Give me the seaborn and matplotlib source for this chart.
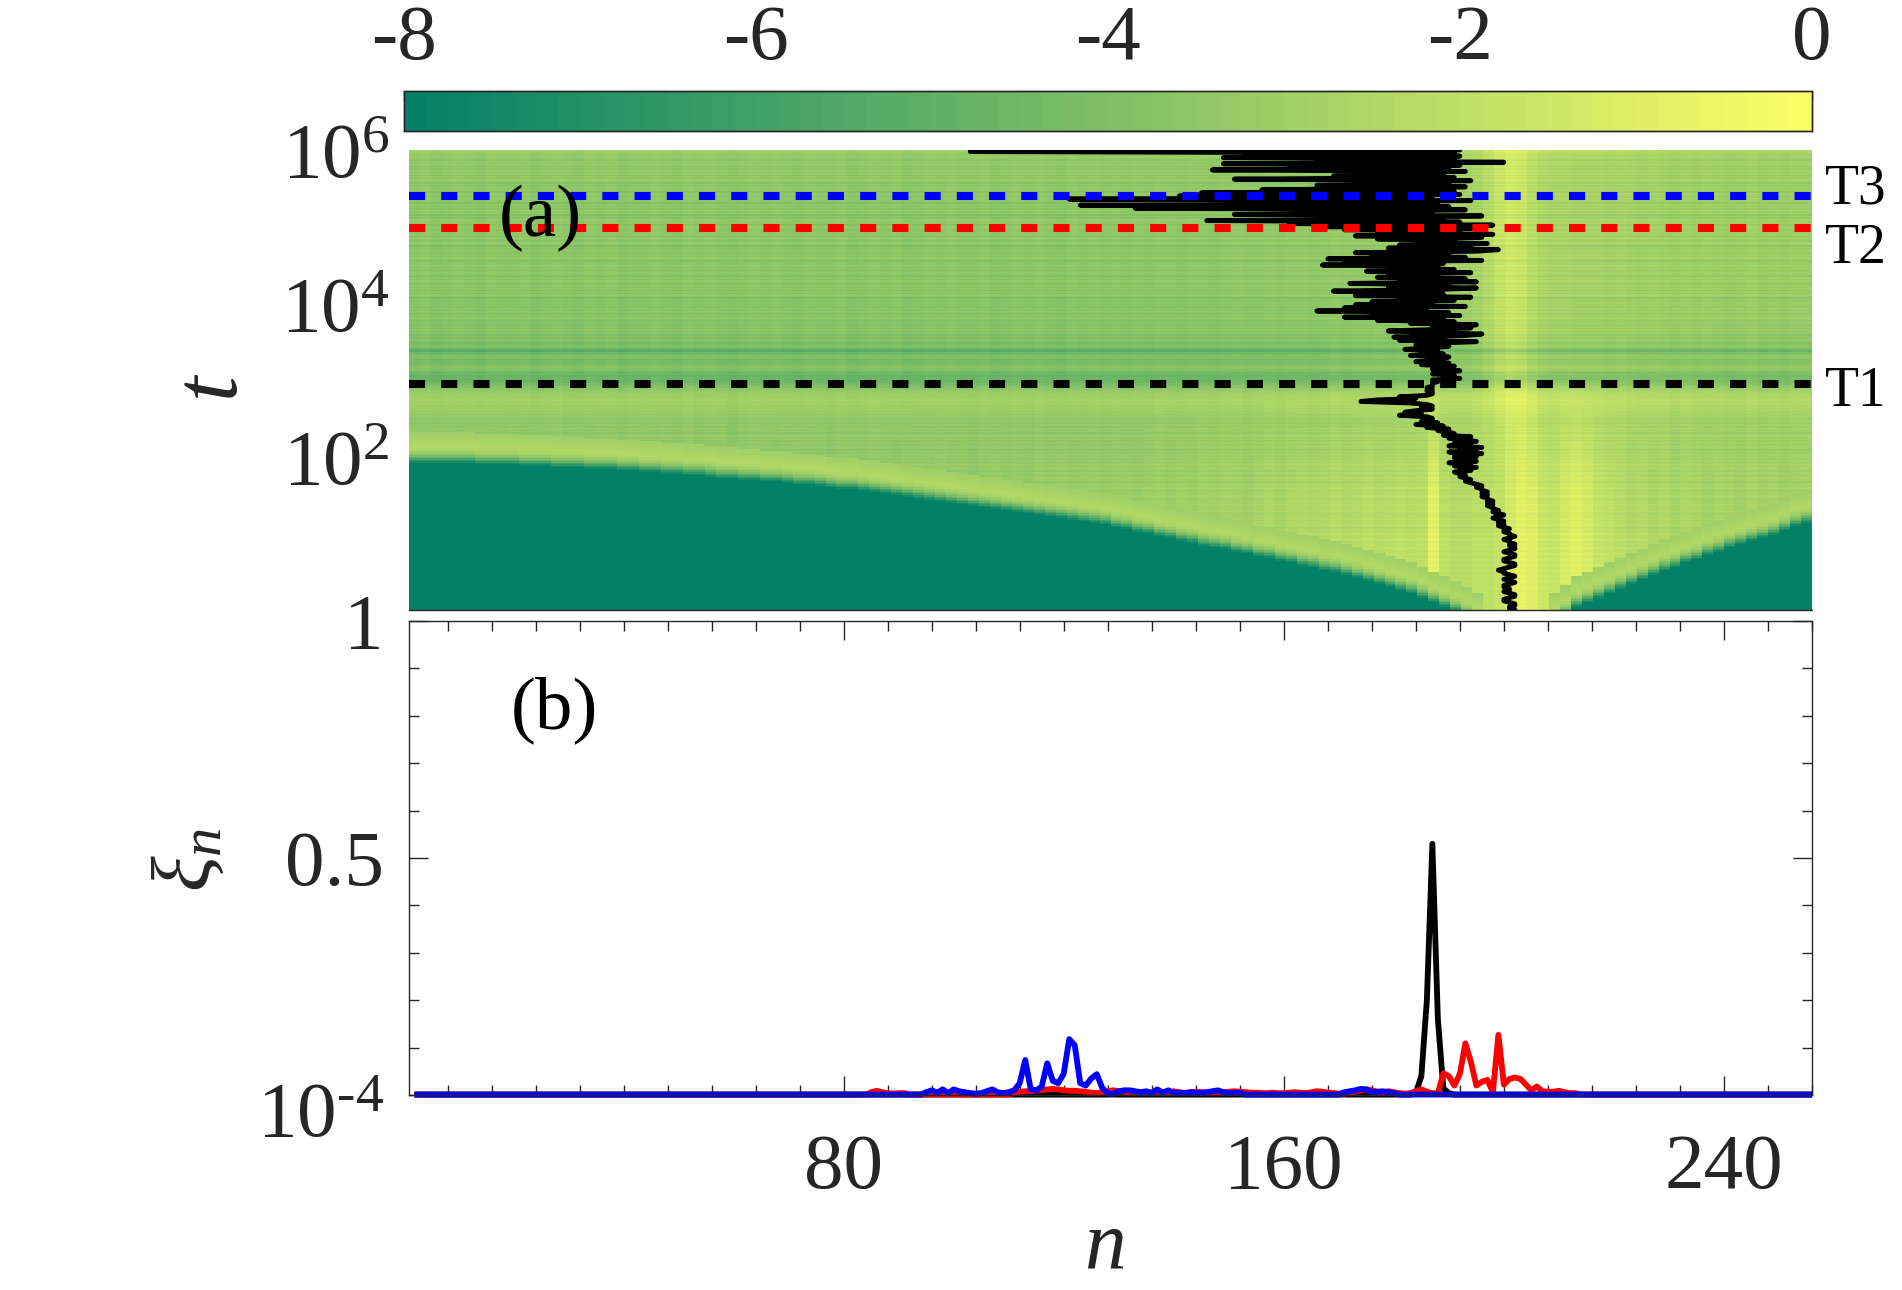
import numpy as np
import pandas as pd
import seaborn as sns
import matplotlib.pyplot as plt
from matplotlib.ticker import MultipleLocator
from matplotlib.transforms import ScaledTranslation

# ------------------------------------------
# values
# ------------------------------------------

# bottom edge of the dark region, log10(t), one value per two sites
front_log_t = [1.91, 1.91, 1.91, 1.90, 1.90, 1.90, 1.89, 1.89, 1.88, 1.88, 1.87, 1.87, 1.86, 1.85, 1.85, 1.84,
               1.83, 1.83, 1.82, 1.81, 1.80, 1.79, 1.78, 1.77, 1.76, 1.75, 1.74, 1.73, 1.71, 1.70, 1.69, 1.68,
               1.67, 1.66, 1.64, 1.63, 1.62, 1.60, 1.59, 1.57, 1.56, 1.54, 1.52, 1.50, 1.49, 1.47, 1.45, 1.43,
               1.41, 1.39, 1.37, 1.35, 1.33, 1.31, 1.29, 1.27, 1.25, 1.23, 1.21, 1.19, 1.17, 1.15, 1.13, 1.10,
               1.07, 1.04, 1.01, 0.98, 0.95, 0.92, 0.89, 0.86, 0.83, 0.81, 0.78, 0.75, 0.72, 0.69, 0.66, 0.63,
               0.60, 0.57, 0.55, 0.51, 0.48, 0.44, 0.40, 0.36, 0.32, 0.28, 0.24, 0.20, 0.15, 0.08, 0.02, -0.05,
               -0.12, -0.2, -1, -1, -1, -1, -1, -1, -0.2, -0.1, 0.02, 0.08, 0.14, 0.20, 0.26, 0.32,
               0.38, 0.44, 0.50, 0.55, 0.60, 0.65, 0.70, 0.75, 0.80, 0.84, 0.88, 0.92, 0.97, 1.02, 1.08, 1.14]

# rise just above that edge, by rows above it
edge_levels = [-8, -7.4, -6.6, -5.8, -5.0, -4.3, -3.7, -3.2, -2.9, -2.7, -2.6, -2.5, -2.5, -2.6, -2.6, -2.7, -2.7, -2.8, -2.8, -2.9, -3.0]

# mean level per time row (50 rows per decade)
row_levels = [-3.1, -3.2, -3.1, -3.3, -3.2, -3.1, -3.2, -3.3, -3.1, -3.2, -3.2, -3.1, -3.3, -3.2, -3.1, -3.2, -3.3, -3.2, -3.1, -3.2, -3.3, -3.1, -3.2, -3.2, -3.3,
              -3.1, -3.2, -3.3, -3.2, -3.1, -3.3, -3.2, -3.2, -3.1, -3.3, -3.2, -3.1, -3.2, -3.3, -3.2, -3.1, -3.3, -3.2, -3.2, -3.3, -3.1, -3.2, -3.3, -3.2, -3.1,
              -3.3, -3.4, -3.2, -3.5, -3.3, -3.2, -3.4, -3.3, -3.5, -3.2, -3.4, -3.3, -3.5, -3.4, -3.2, -3.5, -3.3, -3.4, -3.2, -3.5, -3.3, -3.4, -3.5, -3.3, -3.2,
              -3.4, -3.3, -3.5, -3.4, -3.2, -3.5, -3.3, -3.4, -3.6, -3.3, -3.4, -3.2, -3.5, -3.4, -3.3, -3.6, -3.4, -3.3, -3.5, -3.2, -3.4, -3.5, -3.3, -3.6, -3.4,
              -3.5, -3.3, -3.6, -3.4, -3.7, -3.5, -3.3, -3.6, -3.4, -3.5, -3.7, -3.4, -3.6, -3.3, -3.5, -3.7, -3.4, -3.5, -3.3, -3.6, -3.4, -3.7, -3.5, -3.4, -3.6,
              -3.5, -3.3, -3.4, -3.2, -3.3, -3.1, -3.2, -3.0, -3.1, -2.9, -3.0, -2.8, -2.9, -3.0, -3.1, -3.0, -3.2, -3.3, -3.5, -3.6, -3.8, -4.0, -4.3, -4.5, -4.6,
              -4.7, -4.6, -4.8, -4.5, -4.6, -4.3, -4.0, -3.9, -3.8, -4.0, -4.2, -4.4, -4.3, -4.5, -4.1, -4.0, -4.3, -4.6, -5.3, -5.1, -4.4, -4.1, -3.9, -4.3, -4.6,
              -3.9, -3.7, -4.1, -3.8, -4.2, -3.7, -3.9, -3.6, -4.0, -3.7, -4.2, -3.8, -3.6, -4.0, -3.7, -3.5, -3.9, -3.7, -4.1, -3.6, -3.8, -3.5, -3.9, -3.6, -3.8,
              -3.5, -3.9, -3.6, -4.1, -3.7, -3.4, -3.8, -3.6, -4.0, -3.5, -3.7, -3.3, -3.9, -3.6, -3.4, -3.8, -3.5, -4.1, -3.7, -3.4, -3.6, -3.9, -3.5, -3.8, -3.4,
              -3.7, -3.5, -4.0, -3.6, -3.3, -3.8, -3.5, -3.9, -3.6, -3.4, -3.7, -3.5, -4.1, -3.6, -3.3, -3.8, -3.6, -3.4, -3.9, -3.5, -3.7, -3.4, -3.8, -3.6, -3.3,
              -3.6, -3.9, -3.4, -3.7, -3.3, -3.8, -3.5, -4.0, -3.4, -3.6, -3.2, -3.8, -3.5, -3.7, -3.3, -3.9, -3.4, -3.6, -3.2, -3.7, -3.5, -3.3, -3.8, -3.4, -3.6,
              -3.3, -3.7, -3.4, -3.9, -3.5, -3.2, -3.6, -3.4, -3.8, -3.3, -3.5, -3.2, -3.7, -3.4, -3.6, -3.2, -3.5, -3.3, -3.7, -3.4, -3.2, -3.5, -3.3, -3.1, -3.0]

# column offsets at early and late times, one value per two sites
early_offsets = [0.05, -0.1, 0.1, 0.0, -0.15, 0.05, 0.15, -0.1, 0.0, 0.1, -0.15, 0.05, 0.0, 0.15, -0.1, 0.05,
                 -0.15, 0.1, 0.0, -0.1, 0.15, 0.05, -0.15, 0.1, 0.0, 0.15, -0.1, 0.05, 0.1, -0.15, 0.0, 0.15,
                 0.05, -0.1, 0.1, 0.2, 0.0, 0.05, -0.15, 0.15, 0.1, 0.0, 0.2, 0.05, -0.1, 0.15, 0.1, 0.0,
                 0.2, 0.05, 0.15, -0.1, 0.1, 0.25, 0.05, 0.15, 0.0, 0.2, 0.1, 0.25, 0.05, 0.15, 0.2, 0.1,
                 0.25, 0.2, 0.1, 0.3, 0.4, 0.2, 0.4, 0.3, 0.5, 0.4, 0.6, 0.5, 0.4, 0.6, 0.8, 0.6,
                 0.8, 0.9, 0.8, 0.9, 1.1, 0.9, 1.0, 1.2, 1.0, 1.1, 1.2, 1.1, 1.2, 2.4, 1.2, 1.0,
                 1.0, 1.2, 1.2, 1.4, 2.0, 2.4, 2.2, 1.6, 1.5, 2.0, 2.3, 2.0, 1.5, 1.3, 1.1, 0.9,
                 1.0, 0.7, 0.9, 0.6, 0.8, 0.7, 0.5, 0.7, 0.6, 0.4, 0.7, 0.5, 0.6, 0.4, 0.5, 0.6]
late_offsets = [0.0, 0.1, -0.1, 0.0, 0.1, 0.0, -0.1, 0.1, 0.0, 0.0, 0.1, -0.1, 0.0, 0.1, 0.0, -0.1,
                0.1, 0.0, 0.1, -0.1, 0.0, 0.0, 0.1, 0.0, -0.1, 0.1, 0.0, 0.1, 0.0, -0.1, 0.0, 0.1,
                0.0, 0.1, 0.0, -0.1, 0.1, 0.0, 0.0, 0.1, -0.1, 0.0, 0.1, 0.0, 0.1, -0.1, 0.0, 0.1,
                0.0, 0.1, 0.0, 0.0, 0.1, -0.1, 0.0, 0.1, 0.0, 0.1, 0.0, -0.1, 0.1, 0.0, 0.1, 0.0,
                0.1, 0.0, 0.1, 0.0, 0.1, 0.1, 0.0, 0.1, 0.1, 0.0, 0.1, 0.2, 0.1, 0.1, 0.2, 0.1,
                0.2, 0.2, 0.1, 0.2, 0.3, 0.2, 0.3, 0.3, 0.4, 0.3, 0.4, 0.4, 0.5, 0.5, 0.6, 0.7,
                0.7, 0.9, 1.3, 1.8, 2.1, 1.9, 1.4, 1.0, 0.9, 0.9, 0.8, 0.8, 0.8, 0.7, 0.8, 0.7,
                0.6, 0.7, 0.6, 0.5, 0.6, 0.5, 0.6, 0.5, 0.4, 0.5, 0.6, 0.4, 0.5, 0.4, 0.5, 0.5]
# share of the early offsets, one value per 0.2 decades of t
early_share = [1, 1, 1, 1, 1, 1, 1, 1, 0.9, 0.8, 0.7, 0.55, 0.4, 0.3, 0.2, 0,
               0, 0, 0, 0, 0, 0, 0, 0, 0, 0, 0, 0, 0, 0]

# centre of the wave packet, one value per 0.02 decades of t
centre_n = [201, 200, 200, 201, 201, 200, 199, 199, 200, 201, 201, 200, 199, 200, 200, 199, 199, 200, 201, 200, 199, 200, 201, 200, 199,
            199, 198, 199, 200, 201, 201, 200, 199, 199, 200, 201, 201, 200, 199, 200, 201, 201, 200, 201, 200, 200, 199, 200, 201, 200,
            200, 199, 199, 200, 199, 198, 199, 198, 199, 198, 197, 198, 199, 198, 197, 198, 197, 197, 196, 197, 196, 197, 196, 196, 195,
            196, 195, 196, 195, 195, 194, 195, 194, 193, 192, 193, 192, 191, 192, 191, 190, 193, 191, 194, 190, 193, 189, 194, 191, 190,
            194, 190, 195, 189, 194, 191, 195, 189, 193, 190, 194, 191, 189, 193, 188, 190, 189, 187, 189, 185, 188, 183, 187, 184, 186,
            186, 185, 180, 184, 181, 183, 186, 184, 186, 185, 182, 173, 176, 183, 180, 185, 186, 186, 185, 186, 185, 186, 186, 186, 187,
            186, 191, 188, 190, 186, 188, 191, 186, 188, 190, 184, 189, 183, 188, 187, 189, 182, 188, 184, 187, 181, 186, 189, 183, 187,
            194, 180, 188, 179, 192, 195, 185, 178, 187, 193, 186, 194, 182, 190, 176, 188, 170, 191, 175, 189, 165, 185, 170, 192, 172,
            186, 175, 190, 180, 193, 172, 188, 181, 168, 187, 194, 178, 189, 171, 194, 180, 192, 176, 187, 178, 193, 174, 190, 182, 187,
            166, 188, 170, 195, 167, 192, 175, 189, 172, 194, 198, 178, 193, 180, 196, 183, 190, 176, 195, 172, 197, 176, 191, 170, 195,
            165, 197, 160, 191, 145, 188, 172, 195, 150, 186, 168, 192, 132, 189, 122, 187, 155, 193, 120, 186, 140, 191, 144, 190, 155,
            178, 192, 165, 189, 172, 193, 150, 190, 168, 188, 175, 192, 146, 189, 160, 191, 148, 199, 165, 190, 148, 191, 152, 190, 102, 191]
# my site readings came out one low against the axis
n_offset = 1

t_marks = [900, 9.5e4, 2.5e5]
t_names = ["T1", "T2", "T3"]
t_colors = ["black", "red", "blue"]

# non-zero stretches of the three profiles: first site, then values
profile_base = 0.001
t1_start = 183
t1_values = [0.005, 0.04, 0.20, 0.53, 0.16, 0.014, 0.004]
t2_start = 84
t2_values = [0.006, 0.009, 0.006, 0.004, 0.003, 0.004, 0.004]
t2_peak_start = 110
t2_peak_values = [0.005, 0.007, 0.008, 0.008, 0.010, 0.011, 0.012, 0.013, 0.012, 0.010, 0.009, 0.009, 0.008, 0.007, 0.005, 0.004,
                  0.006, 0.008, 0.010, 0.008, 0.007, 0.005, 0.007, 0.005, 0.004, 0.006, 0.007, 0.005, 0.006, 0.008, 0.006,
                  0.004, 0.006, 0.007, 0.006, 0.005, 0.005, 0.005, 0.006, 0.007, 0.008, 0.007, 0.006, 0.005, 0.005, 0.004,
                  0.004, 0.005, 0.004, 0.004, 0.005, 0.006, 0.005, 0.004, 0.006, 0.008, 0.007, 0.005, 0.004, 0.003, 0.003,
                  0.005, 0.007, 0.010, 0.012, 0.010, 0.007, 0.006, 0.008, 0.006, 0.004, 0.003, 0.004, 0.008, 0.012, 0.007,
                  0.004, 0.003, 0.046, 0.040, 0.020, 0.045, 0.109, 0.070, 0.020, 0.028, 0.032, 0.006, 0.127, 0.022, 0.034,
                  0.037, 0.034, 0.022, 0.010, 0.018, 0.008, 0.007, 0.007, 0.009, 0.006, 0.004, 0.004]
t3_start = 94
t3_values = [0.006, 0.010, 0.005, 0.012, 0.004, 0.012, 0.008, 0.006, 0.004, 0.003, 0.004, 0.008, 0.012, 0.006, 0.004, 0.006, 0.010,
             0.025, 0.074, 0.012, 0.010, 0.018, 0.067, 0.030, 0.025, 0.045, 0.118, 0.105, 0.025, 0.020, 0.035, 0.044, 0.015, 0.003,
             0.003, 0.008, 0.010, 0.010, 0.008, 0.006, 0.008, 0.004, 0.012, 0.005, 0.010, 0.004, 0.005, 0.004, 0.006, 0.005, 0.005,
             0.006, 0.008, 0.010, 0.006, 0.004, 0.005, 0.005]
t3_tail_start = 170
t3_tail_values = [0.006, 0.008, 0.010, 0.013, 0.012, 0.006, 0.007, 0.008, 0.006, 0.004]

# ------------------------------------------
# build the tables
# ------------------------------------------

n_sites = np.arange(1, 256) + n_offset
rows_per_decade = 50
n_rows = len(row_levels)
n_cols = len(front_log_t)

field = np.zeros((n_rows, n_cols))
for i in range(n_rows):
    share = early_share[i // 10]
    for j in range(n_cols):
        k = i - int(front_log_t[j] * rows_per_decade)
        if k < 0:
            field[i, j] = -8
        elif k < len(edge_levels):
            field[i, j] = edge_levels[k]
        else:
            offset = share * early_offsets[j] + (1 - share) * late_offsets[j]
            field[i, j] = min(row_levels[i] + offset, 0)
df_field = pd.DataFrame(field)

xi_t1 = np.full(255, profile_base)
xi_t1[t1_start - 1:t1_start - 1 + len(t1_values)] = t1_values
xi_t2 = np.full(255, profile_base)
xi_t2[t2_start - 1:t2_start - 1 + len(t2_values)] = t2_values
xi_t2[t2_peak_start - 1:t2_peak_start - 1 + len(t2_peak_values)] = t2_peak_values
xi_t3 = np.full(255, profile_base)
xi_t3[t3_start - 1:t3_start - 1 + len(t3_values)] = t3_values
xi_t3[t3_tail_start - 1:t3_tail_start - 1 + len(t3_tail_values)] = t3_tail_values

centre_t = 10.0 ** (np.arange(len(centre_n)) * 0.02)
centre_x = np.array(centre_n) + n_offset

# ------------------------------------------
# figure
# ------------------------------------------

sns.set_style("ticks")
plt.rcParams['font.family'] = ['Liberation Serif', 'DejaVu Sans']
plt.rcParams['mathtext.fontset'] = 'custom'
plt.rcParams['mathtext.rm'] = 'Liberation Serif'
plt.rcParams['mathtext.it'] = 'Liberation Serif:italic'
plt.rcParams['text.color'] = '#262626'

W, H = 1902, 1290
tick_size = 57
dark = '#262626'


def box(left, top, right, bottom):
    return [left / W, 1 - bottom / H, (right - left) / W, (bottom - top) / H]


fig = plt.figure(figsize=(W / 100, H / 100), dpi=100)
ax_cb = fig.add_axes(box(404, 91, 1812, 131))
ax_map = fig.add_axes(box(409, 150, 1812, 610))
ax_a = fig.add_axes(box(409, 150, 1812, 610))
ax_b = fig.add_axes(box(409, 621, 1812, 1095))

# panel (a): heat map, then an overlay with the real n and t scales
sns.heatmap(df_field, ax=ax_map, cbar_ax=ax_cb, cmap=sns.color_palette("summer", 64), vmin=-8, vmax=0,
            xticklabels=False, yticklabels=False, cbar_kws={'orientation': 'horizontal', 'ticks': [-8, -6, -4, -2, 0]})
ax_map.invert_yaxis()
ax_map.tick_params(length=0)

ax_cb.xaxis.set_ticks_position('top')
ax_cb.set_xticklabels(['-8', '-6', '-4', '-2', '0'])
ax_cb.tick_params(axis='x', direction='in', length=7, width=1, labelsize=tick_size, labelcolor=dark, pad=11)
for s in ax_cb.spines.values():
    s.set_visible(True)
    s.set_linewidth(1)
    s.set_color(dark)

ax_a.patch.set_visible(False)
sns.lineplot(x=centre_x, y=centre_t, sort=False, estimator=None, color='black', lw=3.5, ax=ax_a)
for mark, color in zip(t_marks, t_colors):
    ax_a.axhline(mark, color=color, lw=5.8, linestyle=(0, (2, 2)))
ax_a.set_xlim(1, 256)
ax_a.set_yscale('log')
ax_a.set_ylim(1, 1e6)
ax_a.set_xticks([])
ax_a.set_yticks([1e2, 1e4, 1e6])
ax_a.set_yticklabels([r'$\mathregular{10^{2}}$', r'$\mathregular{10^{4}}$', r'$\mathregular{10^{6}}$'])
ax_a.minorticks_off()
ax_a.tick_params(axis='y', length=0, labelsize=tick_size, labelcolor=dark, pad=14)
for name in ['top', 'left', 'right']:
    ax_a.spines[name].set_visible(False)
ax_a.spines['bottom'].set_linewidth(1)
ax_a.spines['bottom'].set_color(dark)
ax_a.set_ylabel('$t$', fontsize=66, color=dark)
ax_a.yaxis.set_label_coords(256 / W, 1 - 387 / H, transform=fig.transFigure)

fig.text(540 / W, 1 - 218 / H, '(a)', fontsize=54, color='black', ha='center', va='center')
for name, y in zip(t_names, [392, 249, 190]):
    fig.text(1856 / W, 1 - y / H, name, fontsize=40, color='black', ha='center', va='center')

# panel (b): the three profiles, not clipped so the baseline keeps its width
sns.lineplot(x=n_sites, y=xi_t1, color='black', lw=4.2, ax=ax_b, clip_on=False, solid_capstyle='butt')
sns.lineplot(x=n_sites, y=xi_t2, color='red', lw=4.2, ax=ax_b, clip_on=False, solid_capstyle='butt')
sns.lineplot(x=n_sites, y=xi_t3, color='blue', lw=4.2, ax=ax_b, clip_on=False, solid_capstyle='butt')
ax_b.set_xlim(1, 256)
ax_b.set_ylim(1e-4, 1)
ax_b.set_xticks([80, 160, 240])
ax_b.xaxis.set_minor_locator(MultipleLocator(8))
ax_b.set_yticks([1e-4, 0.5, 1])
ax_b.set_yticklabels([r'$\mathregular{10^{\text{-}4}}$', '0.5', '1'])
ax_b.yaxis.set_minor_locator(MultipleLocator(0.1))
ax_b.tick_params(which='major', direction='in', length=14, width=1, top=True, right=True, labelsize=tick_size,
                 labelcolor=dark, pad=18)
ax_b.tick_params(axis='x', which='major', pad=28)
ax_b.tick_params(which='minor', direction='in', length=7, width=1, top=True, right=True)
for s in ax_b.spines.values():
    s.set_linewidth(1)
    s.set_color(dark)
ax_b.set_xlabel('$n$', fontsize=60, color=dark)
ax_b.xaxis.set_label_coords(1104 / W, 1 - 1210 / H, transform=fig.transFigure)
ax_b.set_ylabel(r'$\xi_n$', fontsize=60, color=dark)
ax_b.yaxis.set_label_coords(228 / W, 1 - 860 / H, transform=fig.transFigure)
fig.text(554 / W, 1 - 710 / H, '(b)', fontsize=54, color='black', ha='center', va='center')

# the lowest y label sits a little under its tick in the original
low_label = ax_b.get_yticklabels()[0]
low_label.set_transform(low_label.get_transform() + ScaledTranslation(0, -10 / 72, fig.dpi_scale_trans))

fig.savefig('out.png', dpi=100)
